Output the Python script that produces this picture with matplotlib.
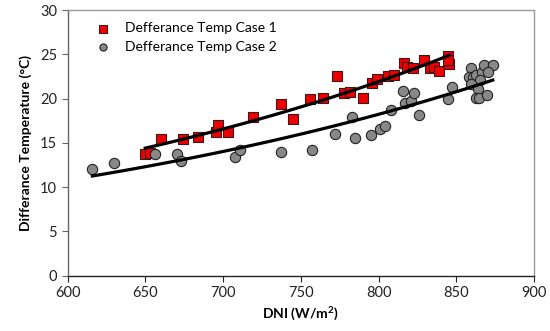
import matplotlib.pyplot as plt
import numpy as np

# Case 1 (red squares)
dni_case1 = [650, 653, 660, 674, 684, 695.5, 697, 703, 719, 737, 745, 756, 764,
             773.5, 777.5, 781.5, 790, 795.5, 799, 806, 810, 816.5, 818.5, 822,
             829, 833, 836, 839, 845, 845.5, 845]
temp_case1 = [13.75, 13.8, 15.4, 15.4, 15.7, 16.2, 17.0, 16.2, 17.9, 19.4, 17.7,
              19.95, 20.1, 22.5, 20.6, 20.7, 20.1, 21.8, 22.2, 22.6, 22.7, 24.0,
              23.6, 23.4, 24.3, 23.5, 23.6, 23.1, 24.8, 23.9, 24.4]

# Case 2 (grey circles)
dni_case2 = [616, 630, 656, 670.5, 673, 708, 711, 737, 757, 772, 783, 785, 795,
             801, 804, 808, 815.5, 817, 821, 823, 826, 844.5, 847.5, 859.5, 858,
             861, 863, 866.5, 868, 873.5, 870.5, 865.5, 859.5, 864, 862.5, 864.5, 870]
temp_case2 = [12.1, 12.7, 13.7, 13.75, 12.9, 13.45, 14.2, 14.0, 14.2, 16.0, 17.9,
              15.5, 15.9, 16.6, 16.9, 18.7, 20.8, 19.5, 19.7, 20.6, 18.2, 20.0,
              21.3, 23.5, 22.4, 22.4, 22.7, 23.0, 23.8, 23.8, 23.0, 22.1, 21.6,
              21.1, 20.1, 20.1, 20.4]

plt.rcParams['font.family'] = ['Lato', 'DejaVu Sans']

fig = plt.figure(figsize=(5.5, 3.31), dpi=100)
ax = fig.add_axes([67.5 / 550, 1 - 275.7 / 331, (534 - 67.5) / 550, (275.7 - 10) / 331])

ax.scatter(dni_case1, temp_case1, marker='s', s=52, color='#ee0000',
           edgecolors='#3a1a1a', linewidths=0.8, label='Defferance Temp Case 1', zorder=3)
ax.scatter(dni_case2, temp_case2, marker='o', s=55, color='#888888',
           edgecolors='#222222', linewidths=0.8, label='Defferance Temp Case 2', zorder=3)

# exponential trend lines (fit on log y, like Excel)
for xs, ys in [(dni_case1, temp_case1), (dni_case2, temp_case2)]:
    b, a = np.polyfit(xs, np.log(ys), 1)
    xx = np.linspace(min(xs), max(xs), 100)
    ax.plot(xx, np.exp(a + b * xx), color='black', lw=2.3, zorder=4)

ax.set_xlim(600, 900)
ax.set_ylim(0, 30)
ax.set_xticks(np.arange(600, 901, 50))
ax.set_yticks(np.arange(0, 31, 5))
ax.tick_params(direction='out', length=4, width=0.8, labelsize=10.5, colors='#222222')
ax.tick_params(axis='y', colors='#666666', labelcolor='#222222')

for s in ['top', 'right']:
    ax.spines[s].set_color('#999999')
ax.spines['left'].set_color('#666666')
ax.spines['bottom'].set_color('#222222')
for s in ax.spines.values():
    s.set_linewidth(1.0)

ax.set_xlabel('DNI (W/m$^\\mathregular{2}$)', fontsize=10, fontweight='bold', labelpad=3)
ax.set_ylabel('Differance Temperature (\u00b0C)', fontsize=10, fontweight='bold', labelpad=6)

leg = ax.legend(loc='upper left', frameon=False, fontsize=10, markerscale=0.7,
                handletextpad=0.6, borderaxespad=0.5, labelspacing=0.45,
                bbox_to_anchor=(0.02, 1.0))

fig.savefig('out.png', dpi=100)
